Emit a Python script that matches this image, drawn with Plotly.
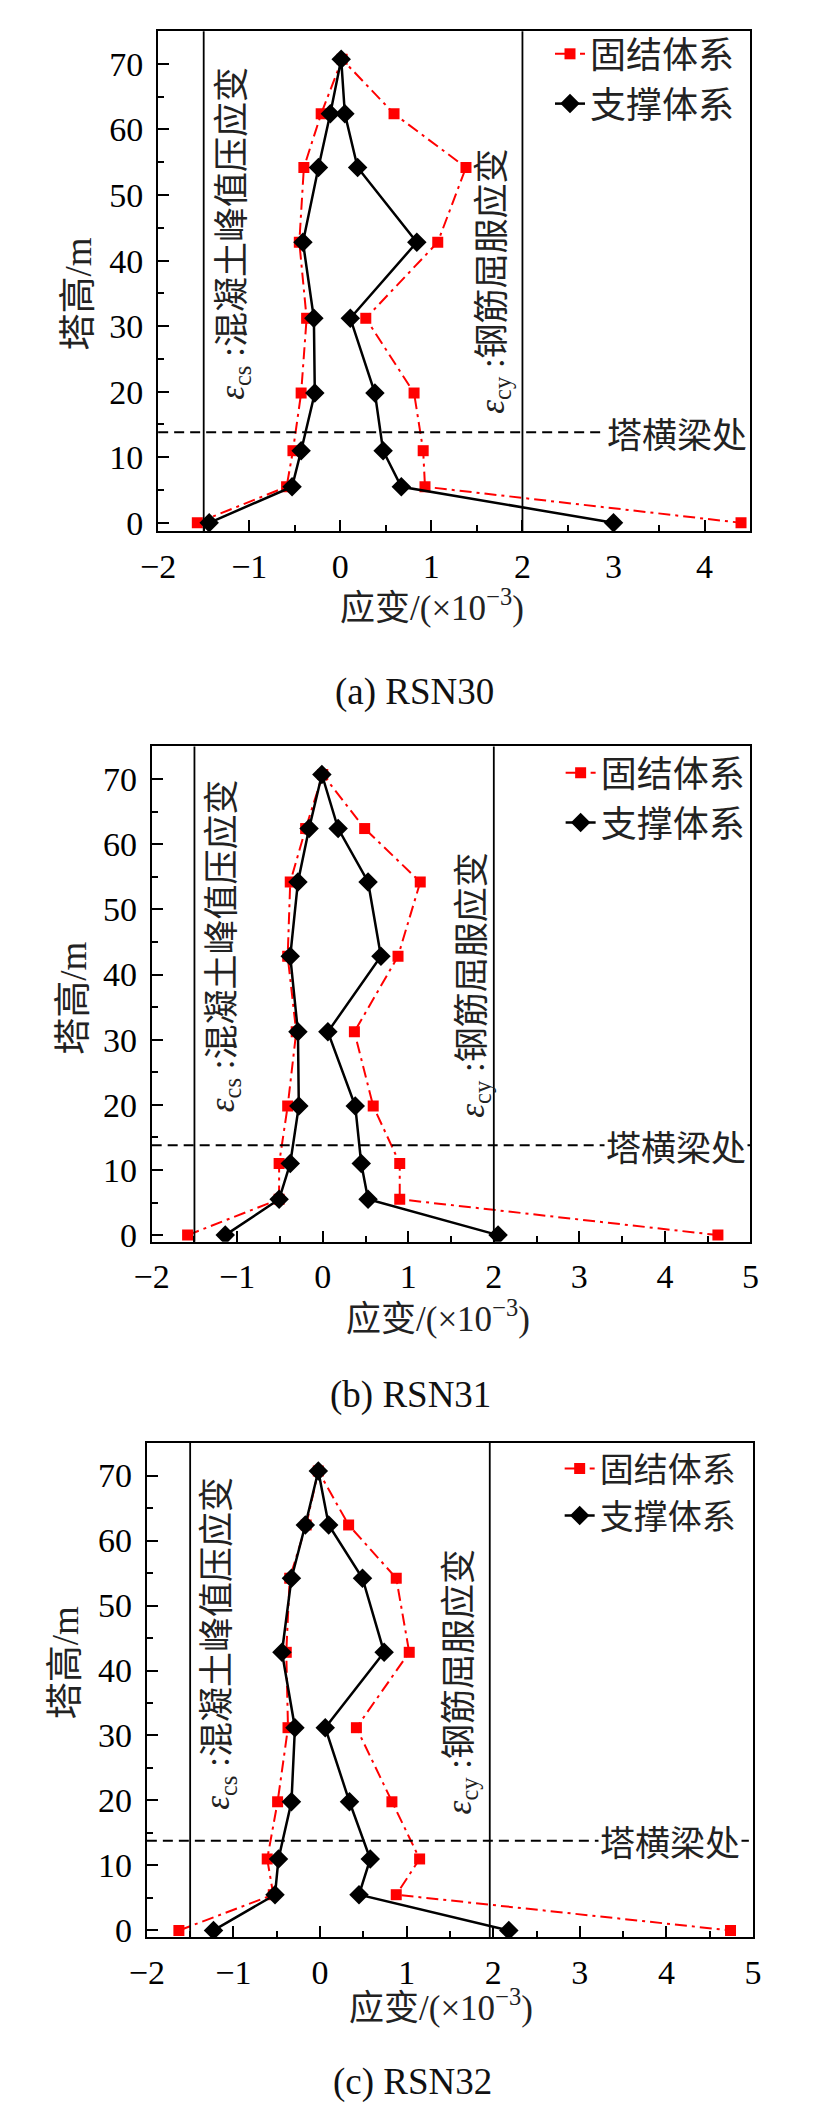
import plotly.graph_objects as go

# ---------------- data ----------------
heights = [0, 5.5, 11, 19.8, 31.2, 42.8, 54.2, 62.4, 70.7]   # tower height (m), bottom -> top

# (a) RSN30
a_fixed_min = [-1.57, -0.59, -0.52, -0.43, -0.37, -0.45, -0.40, -0.21, 0.02]
a_fixed_max = [4.40, 0.93, 0.91, 0.81, 0.28, 1.07, 1.38, 0.59, 0.02]
a_brace_min = [-1.44, -0.53, -0.43, -0.28, -0.29, -0.41, -0.24, -0.11, 0.01]
a_brace_max = [3.00, 0.67, 0.47, 0.38, 0.11, 0.84, 0.19, 0.05, 0.01]

# (b) RSN31
b_fixed_min = [-1.58, -0.51, -0.51, -0.41, -0.31, -0.41, -0.38, -0.20, 0.00]
b_fixed_max = [4.62, 0.90, 0.90, 0.59, 0.37, 0.88, 1.14, 0.49, 0.00]
b_brace_min = [-1.14, -0.51, -0.38, -0.28, -0.29, -0.38, -0.29, -0.16, -0.01]
b_brace_max = [2.05, 0.53, 0.45, 0.38, 0.06, 0.68, 0.53, 0.18, -0.01]

# (c) RSN32
c_fixed_min = [-1.63, -0.54, -0.61, -0.49, -0.37, -0.39, -0.35, -0.16, -0.02]
c_fixed_max = [4.74, 0.88, 1.15, 0.83, 0.42, 1.03, 0.88, 0.33, -0.02]
c_brace_min = [-1.23, -0.52, -0.48, -0.33, -0.29, -0.44, -0.33, -0.17, -0.02]
c_brace_max = [2.18, 0.45, 0.58, 0.34, 0.06, 0.74, 0.49, 0.10, -0.02]

eps_cs = -1.5        # concrete peak compressive strain (x10^-3)
eps_cy = [2.0, 2.0, 1.96]  # steel yield strain lines per panel
beam_height = 13.8   # cross-beam level (m)

captions = ["(a) RSN30", "(b) RSN31", "(c) RSN32"]
series_names = ["固结体系", "支撑体系"]
x_title = "应变/(×10<sup>−3</sup>)"
y_title = "塔高/m"
label_cs = "<i>ε</i><sub>cs</sub> :混凝土峰值压应变"
label_cy = "<i>ε</i><sub>cy</sub> :钢筋屈服应变"
label_beam = "塔横梁处"

panels = [
    (a_fixed_min, a_fixed_max, a_brace_min, a_brace_max),
    (b_fixed_min, b_fixed_max, b_brace_min, b_brace_max),
    (c_fixed_min, c_fixed_max, c_brace_min, c_brace_max),
]

# ---------------- layout geometry (pixels) ----------------
W, H = 813, 2106
boxes = [(136.7, 749, 23.3, 526), (130, 749.3, 742.7, 1240.7), (125, 752, 1443.3, 1940)]
xranges = [[-2, 4.5], [-2, 5], [-2, 5]]
yranges = [[-1.25, 75], [-1, 75], [-1, 75]]
xtitle_pos = [(420, 601), (426, 1316), (429, 2009)]
ytitle_pos = [(54, 288), (49, 996), (41, 1664)]
caption_pos = [(402, 688), (398, 1395), (400, 2086)]
legend_pos = [(542, 16), (553, 739), (552, 1440)]
legend_font = [36, 36, 34]
cs_pos = [(-1.17, 44.2), (-1.15, 44.4), (-1.16, 44.2)]
cy_pos = [(1.69, 36.8), (1.77, 38.3), (1.63, 38.2)]
beam_lbl_x = [3.70, 4.13, 4.04]

SERIF = "Liberation Serif, Noto Sans CJK SC"
CJK = "Noto Sans CJK SC"
TXT = "#222222"

def px(x):
    return x / W

def py(y):
    return 1 - y / H

fig = go.Figure()
annotations = []
shapes = []
layout = {}

for i, (fmin, fmax, bmin, bmax) in enumerate(panels):
    sfx = "" if i == 0 else str(i + 1)
    xa, ya = "x" + sfx, "y" + sfx
    leg = "legend" + sfx
    ys = heights + heights[::-1][1:]
    fx = fmin + fmax[::-1][1:]
    bx = bmin + bmax[::-1][1:]
    fig.add_trace(go.Scatter(
        x=fx, y=ys, mode="lines+markers", name=series_names[0],
        line=dict(color="#FF0000", width=2, dash="12px,5px,3px,5px"),
        marker=dict(symbol="square", size=11, color="#FF0000"),
        xaxis=xa, yaxis=ya, legend=leg))
    fig.add_trace(go.Scatter(
        x=bx, y=ys, mode="lines+markers", name=series_names[1],
        line=dict(color="black", width=2.5),
        marker=dict(symbol="diamond", size=15, color="black"),
        xaxis=xa, yaxis=ya, legend=leg))

    x0, x1, y0, y1 = boxes[i]
    common = dict(showline=True, linewidth=2, linecolor="black", mirror=True,
                  showgrid=False, zeroline=False, ticks="inside", ticklen=11,
                  tickwidth=2, tickcolor="black",
                  tickfont=dict(family=SERIF, size=34, color="black"))
    layout["xaxis" + sfx] = dict(
        common, domain=[px(x0), px(x1)], range=xranges[i], anchor=ya,
        tickmode="linear", tick0=0, dtick=1,
        minor=dict(ticks="inside", ticklen=6, tickwidth=1.5, dtick=0.5, tickcolor="black", showgrid=False),
        ticklabelstandoff=4)
    layout["yaxis" + sfx] = dict(
        common, domain=[py(y1), py(y0)], range=yranges[i], anchor=xa,
        tickmode="linear", tick0=0, dtick=10,
        minor=dict(ticks="inside", ticklen=6, tickwidth=1.5, dtick=5, tickcolor="black", showgrid=False),
        ticklabelstandoff=6)
    lx, ly = legend_pos[i]
    layout[leg] = dict(x=px(lx), y=py(ly), xanchor="left", yanchor="top",
                       bgcolor="rgba(0,0,0,0)", borderwidth=0,
                       font=dict(family=CJK, size=legend_font[i], color=TXT),
                       tracegroupgap=0, itemwidth=30)

    # vertical reference lines
    for xv in (eps_cs, eps_cy[i]):
        shapes.append(dict(type="line", xref=xa, yref=ya + " domain", x0=xv, x1=xv, y0=0, y1=1,
                           line=dict(color="black", width=1.8), layer="above"))
    # cross-beam dashed line
    shapes.append(dict(type="line", xref=xa + " domain", yref=ya, x0=0, x1=1,
                       y0=beam_height, y1=beam_height,
                       line=dict(color="black", width=2, dash="10px,6px"), layer="above"))

    annotations += [
        dict(x=cs_pos[i][0], y=cs_pos[i][1], xref=xa, yref=ya, text=label_cs, textangle=-90,
             xanchor="center", yanchor="middle",
             showarrow=False, font=dict(family=SERIF, size=35, color=TXT)),
        dict(x=cy_pos[i][0], y=cy_pos[i][1], xref=xa, yref=ya, text=label_cy, textangle=-90,
             xanchor="center", yanchor="middle",
             showarrow=False, font=dict(family=SERIF, size=35, color=TXT)),
        dict(x=beam_lbl_x[i], y=beam_height, xref=xa, yref=ya, text=label_beam,
             xanchor="center", yanchor="middle",
             showarrow=False, bgcolor="white", font=dict(family=CJK, size=35, color=TXT)),
        dict(x=px(xtitle_pos[i][0]), y=py(xtitle_pos[i][1]), xref="paper", yref="paper",
             xanchor="center", yanchor="middle",
             text=x_title, showarrow=False, font=dict(family=SERIF, size=35, color=TXT)),
        dict(x=px(ytitle_pos[i][0]), y=py(ytitle_pos[i][1]), xref="paper", yref="paper",
             xanchor="center", yanchor="middle",
             text=y_title, textangle=-90, showarrow=False, font=dict(family=SERIF, size=37, color=TXT)),
        dict(x=px(caption_pos[i][0]), y=py(caption_pos[i][1]), xref="paper", yref="paper",
             xanchor="center", yanchor="middle",
             text=captions[i], showarrow=False, font=dict(family=SERIF, size=37, color="#111111")),
    ]

fig.update_layout(**layout)
fig.update_layout(width=W, height=H, margin=dict(l=0, r=0, t=0, b=0),
                  paper_bgcolor="white", plot_bgcolor="white",
                  showlegend=True, annotations=annotations, shapes=shapes)
fig.write_html("out.html")
